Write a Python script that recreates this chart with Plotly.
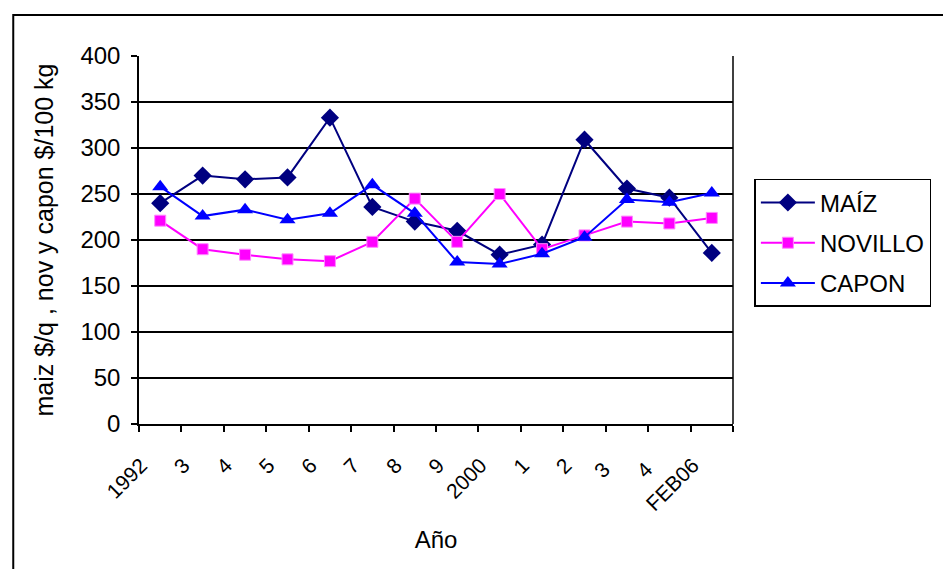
import plotly.graph_objects as go

categories = ["1992", "3", "4", "5", "6", "7", "8", "9", "2000", "1", "2", "3 ", "4 ", "FEB06"]
maiz = [240, 270, 266, 268, 333, 236, 220, 210, 184, 195, 309, 256, 246, 186]
novillo = [221, 190, 184, 179, 177, 198, 245, 198, 250, 190, 205, 220, 218, 224]
capon = [258, 226, 233, 222, 229, 260, 229, 176, 174, 185, 203, 244, 241, 251]

FONT = "Liberation Sans, Arial, sans-serif"

fig = go.Figure()
fig.add_trace(go.Scatter(x=categories, y=maiz, name="MAÍZ", mode="lines+markers",
                         legendgroup="a",
                         line=dict(color="#000080", width=2),
                         marker=dict(symbol="diamond", size=14, color="#000080")))
fig.add_trace(go.Scatter(x=categories, y=novillo, name="NOVILLO", mode="lines+markers",
                         legendgroup="b",
                         line=dict(color="#FF00FF", width=2),
                         marker=dict(symbol="square", size=11, color="#FF00FF",
                                     line=dict(color="#FF88FF", width=1))))
fig.add_trace(go.Scatter(x=categories, y=capon, name="CAPON", mode="lines+markers",
                         legendgroup="c",
                         line=dict(color="#0000FF", width=2),
                         marker=dict(symbol="triangle-up", size=14, color="#0000FF")))

fig.update_layout(
    width=935, height=561,
    margin=dict(l=131, r=190, t=48, b=145),
    paper_bgcolor="white", plot_bgcolor="white",
    font=dict(family=FONT, size=22, color="black"),
    legend=dict(x=1.036, y=0.666, xanchor="left", yanchor="top",
                bordercolor="black", borderwidth=1.5, bgcolor="white",
                font=dict(size=24), tracegroupgap=6, itemwidth=54),
    xaxis=dict(type="category", range=[-0.5, 13.5], showgrid=False, showline=True,
               linecolor="black", linewidth=1.5,
               ticks="outside", tickson="boundaries", ticklen=6, tickcolor="black", tickwidth=1.5,
               tickangle=-45, tickfont=dict(size=21), ticklabelstandoff=19, ticklabelshift=-19,
               title=dict(text="Año", font=dict(size=24), standoff=17)),
    yaxis=dict(range=[0, 400], dtick=50, showgrid=True, gridcolor="black", gridwidth=1.5,
               showline=True, linecolor="black", linewidth=1.5, zeroline=False,
               ticks="outside", ticklen=6, tickcolor="black", tickwidth=1.5,
               tickfont=dict(size=24), ticklabelstandoff=6,
               title=dict(text="maiz $/q , nov y capon $/100 kg", font=dict(size=25), standoff=20)),
    shapes=[
        dict(type="line", xref="paper", yref="paper", x0=1, x1=1, y0=0, y1=1,
             line=dict(color="black", width=1.5)),
        dict(type="rect", xref="paper", yref="paper", x0=-0.2117, x1=2.0, y0=-1.0, y1=1.1114,
             line=dict(color="black", width=2), fillcolor="rgba(0,0,0,0)", layer="below"),
    ],
)

fig.write_html("out.html")
